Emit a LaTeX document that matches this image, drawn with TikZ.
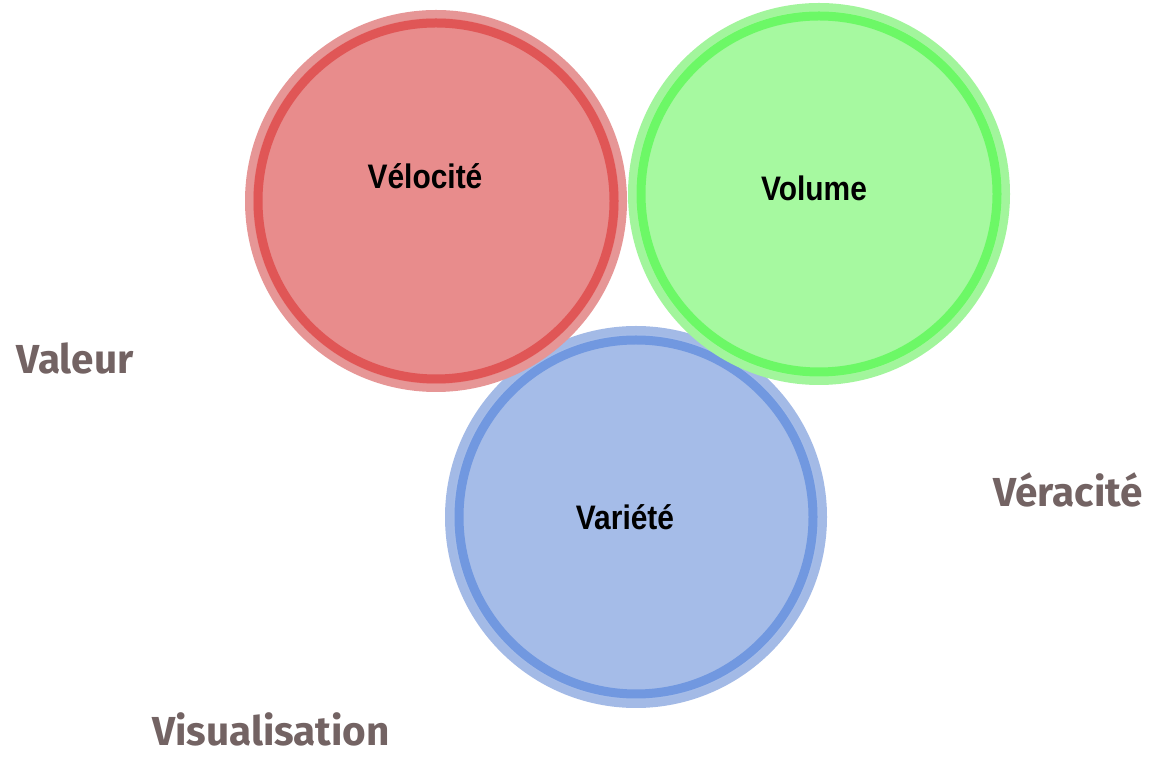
\documentclass[tikz,border=0pt]{standalone}
\usepackage{fontspec}
\usepackage{xcolor}
\usepackage{tikz}
\usetikzlibrary{positioning}
\setmainfont{Liberation Sans}
\newfontfamily\vfont{Fira Sans}
\definecolor{redfill}{HTML}{E88C8C}
\definecolor{redband}{HTML}{E69696}
\definecolor{redring}{HTML}{E05656}
\definecolor{greenfill}{HTML}{A6F9A0}
\definecolor{greenband}{HTML}{A2F59C}
\definecolor{greenring}{HTML}{6CF866}
\definecolor{bluefill}{HTML}{A5BCE8}
\definecolor{blueband}{HTML}{A3BAE6}
\definecolor{bluering}{HTML}{7198E0}
\definecolor{vgrey}{HTML}{736363}

\tikzset{
  disc/.style={circle, inner sep=0pt, minimum size=374pt, line width=8pt},
  vname/.style={font=\fontsize{34}{36}\selectfont\bfseries, text=black},
  vlabel/.style={font=\vfont\fontsize{40.5}{44}\selectfont\bfseries, text=vgrey, inner sep=0pt}
}

\begin{document}
\begin{tikzpicture}[x=1pt, y=1pt]
    \useasboundingbox (0,0) rectangle (1153,757);
    % the three V discs
    \node[disc, fill=bluefill, draw=blueband] (variete) at (636,240) {};
    \draw[bluering, line width=9pt] (variete.center) circle (177);
    \node[disc, fill=greenfill, draw=greenband] (volume) at (819,563) {};
    \draw[greenring, line width=9pt] (volume.center) circle (178);
    \node[disc, fill=redfill, draw=redband] (velocite) at (436,556) {};
    \draw[redring, line width=9pt] (velocite.center) circle (178);
    % names inside
    \node[vname] (tvelo) at (425,581) {\scalebox{0.88}[1]{Vélocité}};
    \node[vname] (tvol) at (814,569) {\scalebox{0.88}[1]{Volume}};
    \node[vname] (tvar) at (625,240) {\scalebox{0.88}[1]{Variété}};
    % the other V's
    \node[vlabel] (valeur) at (75,399) {Valeur};
    \node[vlabel] (veracite) at (1068,267) {Véracité};
    \node[vlabel, anchor=base] (visu) at (271,11) {Visualisation};
  \end{tikzpicture}
\end{document}
